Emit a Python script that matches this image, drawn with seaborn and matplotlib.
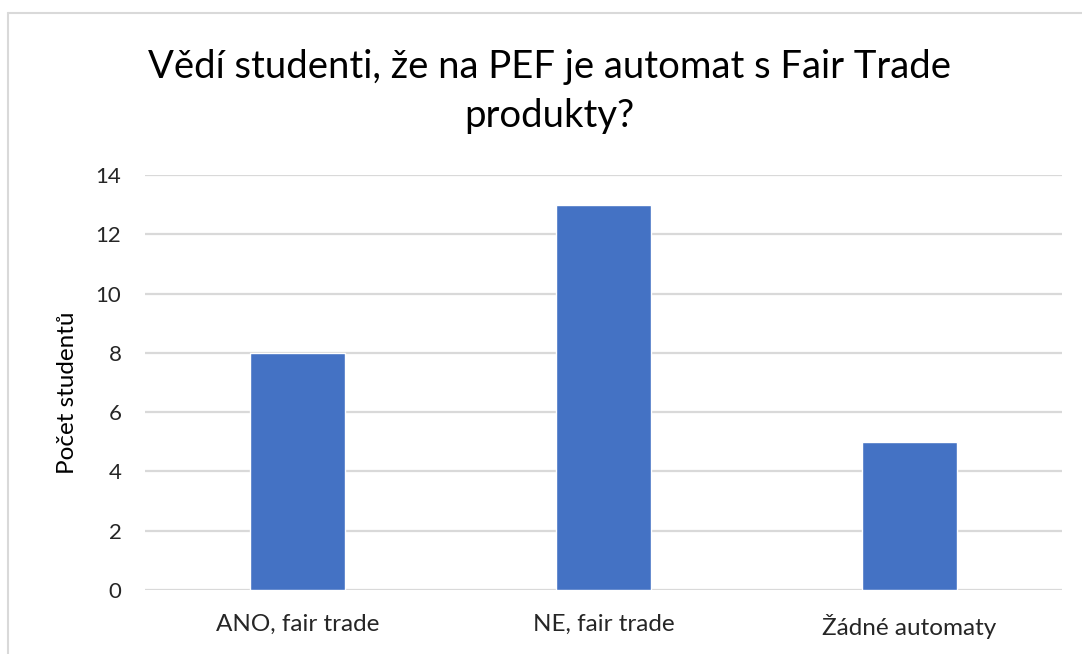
import matplotlib
matplotlib.use('Agg')
import matplotlib.pyplot as plt
import seaborn as sns
import pandas as pd

# data
kategorie = ['ANO, fair trade', 'NE, fair trade', 'Žádné automaty']
pocty = [8, 13, 5]
yticks = [0, 2, 4, 6, 8, 10, 12, 14]

df = pd.DataFrame({'odpoved': kategorie, 'pocet': pocty})

sns.set_style('white')
plt.rcParams['font.family'] = ['Lato', 'DejaVu Sans']

fig = plt.figure(figsize=(10.82, 6.54), dpi=100)
ax = fig.add_axes([0.134, 0.0979, 0.8475, 0.6345])

sns.barplot(data=df, x='odpoved', y='pocet', color='#4472C4', width=0.31,
            saturation=1, ax=ax, zorder=3)

ax.set_xlim(-0.5, 2.5)
ax.set_ylim(0, 14)
ax.set_yticks(yticks)
ax.yaxis.grid(True, color='#D9D9D9', linewidth=1.6, zorder=0)
ax.set_axisbelow(True)
for s in ax.spines.values():
    s.set_visible(False)
ax.tick_params(axis='y', length=0, labelsize=16, colors='#262626', pad=17)
ax.tick_params(axis='x', length=0, labelsize=17.5, colors='#262626', pad=17)
ax.set_xlabel('')
ax.set_ylabel('Počet studentů', fontsize=17.5, color='black')
ax.yaxis.set_label_coords(-0.073, 0.475)

fig.text(0.508, 0.86, 'Vědí studenti, že na PEF je automat s Fair Trade\nprodukty?',
         ha='center', va='center', fontsize=27.5, color='black', linespacing=1.45)

# light frame around the chart area
fig.add_artist(plt.Line2D([8/1082, 1], [1 - 13/654, 1 - 13/654], color='#D9D9D9', linewidth=1.5))
fig.add_artist(plt.Line2D([8/1082, 8/1082], [0, 1 - 13/654], color='#D9D9D9', linewidth=1.5))

fig.savefig('out.png', dpi=100)
